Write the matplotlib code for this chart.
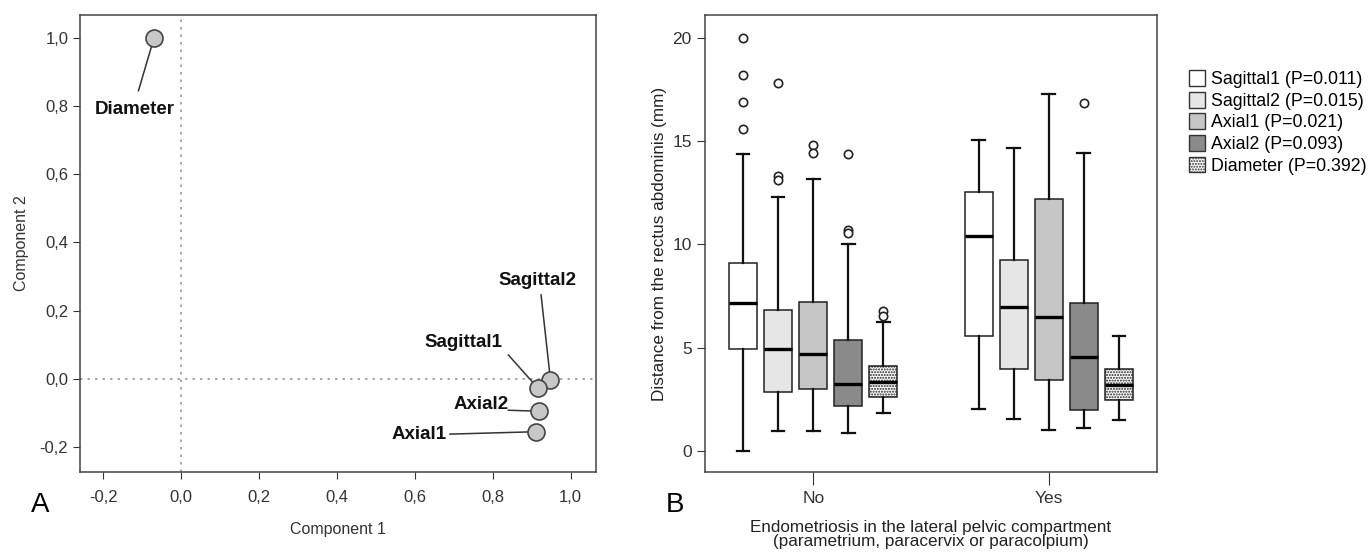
import matplotlib
matplotlib.use("Agg")
import matplotlib.pyplot as plt
from matplotlib.patches import Patch

plt.rcParams['font.family'] = ['Liberation Sans', 'DejaVu Sans']

# ---- panel A: component loadings ----
var_names = ["Diameter", "Sagittal2", "Sagittal1", "Axial2", "Axial1"]
comp1 = [-0.07, 0.948, 0.915, 0.918, 0.912]
comp2 = [1.0, -0.002, -0.026, -0.095, -0.155]
# label anchor positions (data coords)
label_x = [-0.12, 0.915, 0.725, 0.77, 0.61]
label_y = [0.79, 0.287, 0.106, -0.076, -0.164]
line_start_x = [-0.11, 0.924, 0.84, 0.84, 0.69]
line_start_y = [0.845, 0.246, 0.07, -0.092, -0.162]

# ---- panel B: box plot stats ----
groups = ["No", "Yes"]
measures = ["Sagittal1 (P=0.011)", "Sagittal2 (P=0.015)", "Axial1 (P=0.021)",
            "Axial2 (P=0.093)", "Diameter (P=0.392)"]
# [whislo, q1, med, q3, whishi] per measure, per group
no_stats = [
    [0.0, 4.94, 7.16, 9.1, 14.4],
    [0.96, 2.89, 4.94, 6.84, 12.3],
    [0.96, 2.99, 4.7, 7.21, 13.16],
    [0.9, 2.17, 3.23, 5.38, 10.03],
    [1.86, 2.63, 3.35, 4.14, 6.27],
]
yes_stats = [
    [2.03, 5.59, 10.39, 12.56, 15.04],
    [1.57, 4.0, 6.99, 9.26, 14.65],
    [1.04, 3.45, 6.5, 12.2, 17.3],
    [1.15, 2.0, 4.56, 7.16, 14.44],
    [1.49, 2.48, 3.2, 3.97, 5.56],
]
no_fliers = [
    [20.0, 18.2, 16.9, 15.6],
    [17.8, 13.3, 13.1],
    [14.8, 14.44],
    [14.4, 10.7, 10.55],
    [6.79, 6.53],
]
yes_fliers = [[], [], [], [16.84], []]

box_colors = ["white", "#e6e6e6", "#c6c6c6", "#8a8a8a", "white"]
box_hatches = [None, None, None, None, "......"]

plt.rcParams['hatch.color'] = "#888888"
fig = plt.figure(figsize=(13.71, 5.52), dpi=100)

# panel A
ax1 = fig.add_axes([0.0584, 0.145, 0.3763, 0.8279])
ax1.axvline(0, color="#999999", ls=(0, (1.5, 3)), lw=1.2, zorder=1)
ax1.axhline(0, color="#999999", ls=(0, (1.5, 3)), lw=1.2, zorder=1)
for i in range(len(var_names)):
    ax1.plot([line_start_x[i], comp1[i]], [line_start_y[i], comp2[i]],
             color="#333333", lw=1.1, zorder=2)
ax1.scatter(comp1, comp2, s=150, facecolor="#c8c8c8", edgecolor="#444444",
            linewidth=1.2, zorder=3)
for i, name in enumerate(var_names):
    ax1.text(label_x[i], label_y[i], name, ha="center", va="center",
             fontsize=13.5, fontweight="bold", color="#111111")
ax1.set_xlim(-0.26, 1.065)
ax1.set_ylim(-0.273, 1.067)
ticks_a = [-0.2, 0.0, 0.2, 0.4, 0.6, 0.8, 1.0]
tick_labels_a = ["-0,2", "0,0", "0,2", "0,4", "0,6", "0,8", "1,0"]
ax1.set_xticks(ticks_a)
ax1.set_yticks(ticks_a)
ax1.set_xticklabels(tick_labels_a)
ax1.set_yticklabels(tick_labels_a)
ax1.tick_params(labelsize=12, colors="#333333", length=5)
ax1.tick_params(axis="x", pad=8)
ax1.set_xlabel("Component 1", fontsize=11.5, color="#333333", labelpad=12)
ax1.set_ylabel("Component 2", fontsize=11.5, color="#333333", labelpad=8)
for sp in ax1.spines.values():
    sp.set_color("#444444")
    sp.set_linewidth(1.1)
fig.text(40 / 1371, 1 - 505 / 552, "A", fontsize=20, ha="center", va="center")

# panel B
ax2 = fig.add_axes([0.5142, 0.145, 0.3297, 0.8279])
offset = 0.149
width = 0.119
for g, (stats_set, fliers_set) in enumerate([(no_stats, no_fliers), (yes_stats, yes_fliers)]):
    bstats = []
    for m in range(len(measures)):
        lo, q1, med, q3, hi = stats_set[m]
        bstats.append(dict(whislo=lo, q1=q1, med=med, q3=q3, whishi=hi,
                           fliers=fliers_set[m]))
    pos = [g + 1 + (m - 2) * offset for m in range(len(measures))]
    bp = ax2.bxp(bstats, positions=pos, widths=width, patch_artist=True,
                 showfliers=True, capwidths=width * 0.45,
                 boxprops=dict(edgecolor="#222222", linewidth=1.1),
                 whiskerprops=dict(color="#111111", linewidth=1.6),
                 capprops=dict(color="#111111", linewidth=1.6),
                 medianprops=dict(color="#000000", linewidth=2.4),
                 flierprops=dict(marker="o", markerfacecolor="white",
                                 markeredgecolor="#222222", markersize=6,
                                 markeredgewidth=1.2))
    for m, patch in enumerate(bp["boxes"]):
        patch.set_facecolor(box_colors[m])
        if box_hatches[m]:
            patch.set_hatch(box_hatches[m])
ax2.set_xlim(0.54, 2.46)
ax2.set_ylim(-1.0, 21.1)
ax2.set_xticks([1, 2])
ax2.set_xticklabels(groups)
ax2.set_yticks([0, 5, 10, 15, 20])
ax2.tick_params(labelsize=12.5, colors="#333333", length=6)
ax2.tick_params(axis="x", length=9, pad=5)
ax2.set_ylabel("Distance from the rectus abdominis (mm)", fontsize=12.3, color="#222222")
ax2.set_xlabel("Endometriosis in the lateral pelvic compartment\n(parametrium, paracervix or paracolpium)",
               fontsize=12.3, color="#222222", linespacing=0.92, labelpad=10)
for sp in ax2.spines.values():
    sp.set_color("#444444")
    sp.set_linewidth(1.1)
fig.text(675 / 1371, 1 - 505 / 552, "B", fontsize=20, ha="center", va="center")

handles = [Patch(facecolor=box_colors[m], edgecolor="#333333",
                 hatch=box_hatches[m], label=measures[m]) for m in range(len(measures))]
fig.legend(handles=handles, loc="upper left", bbox_to_anchor=(1182 / 1371, 1 - 63 / 552),
           frameon=False, fontsize=12.8, handlelength=0.9, handleheight=1.0,
           handletextpad=0.35, labelspacing=0.2, borderaxespad=0)

fig.savefig("out.png", dpi=100)
